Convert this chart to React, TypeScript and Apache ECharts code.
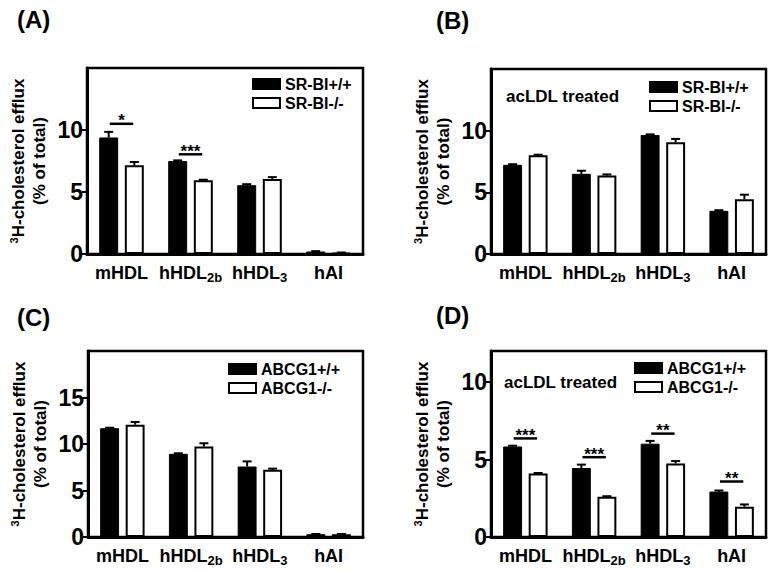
import React, { useEffect, useRef } from "react";
import * as echarts from "echarts";

const categories = ["mHDL", "hHDL2b", "hHDL3", "hAI"];

// Panel A – SR-BI, untreated
const aWt = [9.4, 7.5, 5.55, 0.2];
const aWtErr = [0.45, 0.05, 0.08, 0.03];
const aKo = [7.15, 5.95, 6.05, 0.1];
const aKoErr = [0.27, 0.04, 0.15, 0.02];
const aSig = [
  { cat: 0, y: 10.5, label: "*" },
  { cat: 1, y: 8.04, label: "***" },
];

// Panel B – SR-BI, acLDL treated
const bWt = [7.23, 6.5, 9.65, 3.5];
const bWtErr = [0.05, 0.25, 0.05, 0.05];
const bKo = [8.0, 6.37, 9.06, 4.44];
const bKoErr = [0.05, 0.08, 0.27, 0.37];

// Panel C – ABCG1, untreated
const cWt = [11.7, 8.94, 7.58, 0.3];
const cWtErr = [0.05, 0.06, 0.55, 0.02];
const cKo = [12.07, 9.73, 7.22, 0.3];
const cKoErr = [0.3, 0.35, 0.13, 0.02];

// Panel D – ABCG1, acLDL treated
const dWt = [5.84, 4.45, 6.02, 2.93];
const dWtErr = [0.05, 0.22, 0.18, 0.07];
const dKo = [4.1, 2.6, 4.74, 1.95];
const dKoErr = [0.03, 0.03, 0.16, 0.15];
const dSig = [
  { cat: 0, y: 6.36, label: "***" },
  { cat: 1, y: 5.15, label: "***" },
  { cat: 2, y: 6.67, label: "**" },
  { cat: 3, y: 3.58, label: "**" },
];

const srNames = ["SR-BI+/+", "SR-BI-/-"];
const abNames = ["ABCG1+/+", "ABCG1-/-"];
const yTicks = [0, 5, 10];
const yTicksC = [0, 5, 10, 15];

const FONT = "'Liberation Sans', Arial, Helvetica, sans-serif";
const BAR_W = 0.275; // fraction of band
const BAR_GAP = 0.35; // fraction of bar width
const OFF = (BAR_W * (1 + BAR_GAP)) / 2;

const panels = [
  {
    tag: "(A)", grid: { left: 87, top: 68, width: 276, height: 186 }, max: 15, ticks: yTicks,
    wt: aWt, wtErr: aWtErr, ko: aKo, koErr: aKoErr, names: srNames, sig: aSig,
    legend: { left: 252, top: 76 }, tagPos: [17, 7], treated: null,
  },
  {
    tag: "(B)", grid: { left: 491, top: 69, width: 275, height: 185 }, max: 15, ticks: yTicks,
    wt: bWt, wtErr: bWtErr, ko: bKo, koErr: bKoErr, names: srNames, sig: [],
    legend: { left: 649, top: 79 }, tagPos: [436, 8], treated: [506, 88],
  },
  {
    tag: "(C)", grid: { left: 88, top: 351, width: 275, height: 186 }, max: 20, ticks: yTicksC,
    wt: cWt, wtErr: cWtErr, ko: cKo, koErr: cKoErr, names: abNames, sig: [],
    legend: { left: 228, top: 361 }, tagPos: [17, 305], treated: null,
  },
  {
    tag: "(D)", grid: { left: 491, top: 351, width: 275, height: 186 }, max: 12, ticks: yTicks,
    wt: dWt, wtErr: dWtErr, ko: dKo, koErr: dKoErr, names: abNames, sig: dSig,
    legend: { left: 634, top: 360 }, tagPos: [436, 303], treated: [504, 374],
  },
];

const catRich = {
  m: { fontSize: 18, fontWeight: "bold", fontFamily: FONT, color: "#000", lineHeight: 22 },
  sub: { fontSize: 13, fontWeight: "bold", fontFamily: FONT, color: "#000", lineHeight: 13, verticalAlign: "bottom" },
};

function catFormatter(v: string) {
  if (v === "hHDL2b") return "{m|hHDL}{sub|2b}";
  if (v === "hHDL3") return "{m|hHDL}{sub|3}";
  return "{m|" + v + "}";
}

function errRender(side: number) {
  return (params: any, api: any) => {
    const idx = api.value(0);
    const base = api.coord([idx, api.value(1)]);
    const top = api.coord([idx, api.value(2)]);
    const band = api.size([1, 0])[0];
    const x = base[0] + side * band * OFF;
    return {
      type: "group",
      children: [
        { type: "line", shape: { x1: x, y1: base[1], x2: x, y2: top[1] }, style: { stroke: "#000", lineWidth: 2 } },
        { type: "line", shape: { x1: x - 4.5, y1: top[1], x2: x + 4.5, y2: top[1] }, style: { stroke: "#000", lineWidth: 2 } },
      ],
    };
  };
}

const sigLabels: Record<number, string[]> = {};

function sigRender(params: any, api: any) {
  const idx = api.value(0);
  const p = api.coord([idx, api.value(1)]);
  const band = api.size([1, 0])[0];
  const half = band * 0.17;
  const label = sigLabels[params.seriesIndex]?.[params.dataIndex] ?? "";
  return {
    type: "group",
    children: [
      { type: "line", shape: { x1: p[0] - half, y1: p[1], x2: p[0] + half, y2: p[1] }, style: { stroke: "#000", lineWidth: 2.5 } },
      {
        type: "text",
        x: p[0],
        y: p[1] - 3,
        style: { text: label, fontSize: 17, fontWeight: "bold", fontFamily: FONT, fill: "#000", align: "center", verticalAlign: "middle" },
      },
    ],
  };
}

export default function App() {
  const ref = useRef<HTMLDivElement>(null);

  useEffect(() => {
    if (!ref.current) return;
    const chart = echarts.init(ref.current, null, { renderer: "svg" });

    const grid: any[] = [];
    const xAxis: any[] = [];
    const yAxis: any[] = [];
    const series: any[] = [];
    const legend: any[] = [];
    const graphic: any[] = [];

    panels.forEach((p, i) => {
      grid.push({ ...p.grid, show: true, borderColor: "#000", borderWidth: 2.5, backgroundColor: "transparent", containLabel: false });
      xAxis.push({
        type: "category",
        gridIndex: i,
        data: categories,
        axisLine: { lineStyle: { color: "#000", width: 3 } },
        axisTick: { alignWithLabel: true, length: 5, lineStyle: { color: "#000", width: 2 } },
        axisLabel: { interval: 0, margin: 8, formatter: catFormatter, rich: catRich, color: "#000" },
        splitLine: { show: false },
      });
      yAxis.push({
        type: "value",
        gridIndex: i,
        min: 0,
        max: p.max,
        interval: 5,
        name: "{sup|3}{t|H-cholesterol efflux}\n{t|(% of total)}",
        nameLocation: "middle",
        nameRotate: 90,
        nameGap: 37,
        nameTextStyle: {
          fontSize: 17, fontWeight: "bold", fontFamily: FONT, color: "#000", lineHeight: 21,
          rich: {
            t: { fontSize: 17, fontWeight: "bold", fontFamily: FONT, color: "#000", lineHeight: 21 },
            sup: { fontSize: 11, fontWeight: "bold", fontFamily: FONT, color: "#000", lineHeight: 11, verticalAlign: "top" },
          },
        },
        axisLine: { show: true, lineStyle: { color: "#000", width: 3 } },
        axisTick: { show: true, length: 5, customValues: p.ticks, lineStyle: { color: "#000", width: 2 } },
        axisLabel: {
          customValues: p.ticks,
          margin: 4,
          fontSize: 23,
          fontWeight: "bold",
          fontFamily: FONT,
          color: "#000",
          formatter: (v: number) => (p.ticks.indexOf(v) >= 0 ? String(v) : ""),
        },
        splitLine: { show: false },
      });

      series.push({
        type: "bar",
        name: p.names[0],
        xAxisIndex: i,
        yAxisIndex: i,
        data: p.wt,
        barWidth: BAR_W * 100 + "%",
        barGap: BAR_GAP * 100 + "%",
        itemStyle: { color: "#000", borderColor: "#000", borderWidth: 1 },
        z: 2,
      });
      series.push({
        type: "bar",
        name: p.names[1],
        xAxisIndex: i,
        yAxisIndex: i,
        data: p.ko,
        barWidth: BAR_W * 100 + "%",
        barGap: BAR_GAP * 100 + "%",
        itemStyle: { color: "#fff", borderColor: "#000", borderWidth: 2 },
        z: 2,
      });
      series.push({
        type: "custom",
        xAxisIndex: i,
        yAxisIndex: i,
        renderItem: errRender(-1),
        data: p.wt.map((v, k) => [k, v, v + p.wtErr[k]]),
        z: 3,
        silent: true,
      });
      series.push({
        type: "custom",
        xAxisIndex: i,
        yAxisIndex: i,
        renderItem: errRender(1),
        data: p.ko.map((v, k) => [k, v, v + p.koErr[k]]),
        z: 3,
        silent: true,
      });
      if (p.sig.length) {
        sigLabels[series.length] = p.sig.map((s) => s.label);
        series.push({
          type: "custom",
          xAxisIndex: i,
          yAxisIndex: i,
          renderItem: sigRender,
          data: p.sig.map((s) => [s.cat, s.y]),
          z: 4,
          silent: true,
        });
      }

      legend.push({
        data: p.names,
        orient: "vertical",
        left: p.legend.left,
        top: p.legend.top,
        itemWidth: 27,
        itemHeight: 10,
        itemGap: 3,
        padding: 0,
        icon: "rect",
        selectedMode: false,
        textStyle: { fontSize: 16, fontWeight: "bold", fontFamily: FONT, color: "#000", lineHeight: 16 },
      });

      graphic.push({
        type: "text",
        left: p.tagPos[0],
        top: p.tagPos[1],
        style: { text: p.tag, fontSize: 24, fontWeight: "bold", fontFamily: FONT, fill: "#000" },
      });
      if (p.treated) {
        graphic.push({
          type: "text",
          left: p.treated[0],
          top: p.treated[1],
          style: { text: "acLDL treated", fontSize: 17, fontWeight: "bold", fontFamily: FONT, fill: "#000" },
        });
      }
    });

    chart.setOption({
      animation: false,
      backgroundColor: "#fff",
      grid,
      xAxis,
      yAxis,
      series,
      legend,
      graphic,
    });

    return () => chart.dispose();
  }, []);

  return <div ref={ref} style={{ position: "absolute", left: 0, top: 0, width: 772, height: 571 }} />;
}
